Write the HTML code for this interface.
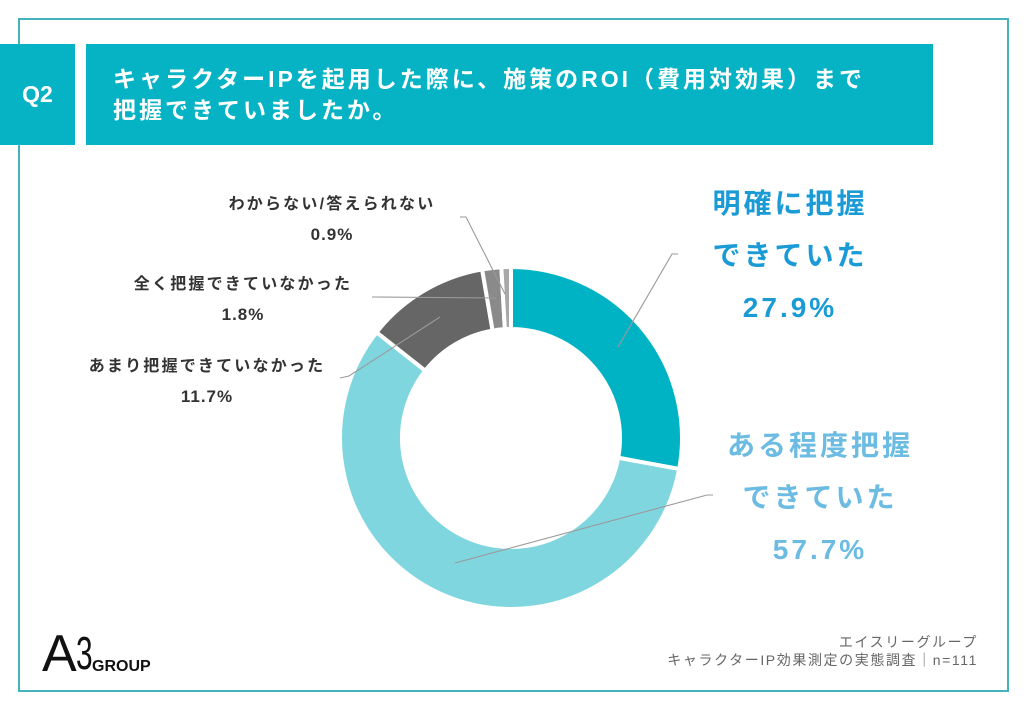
<!DOCTYPE html>
<html><head><meta charset="utf-8">
<style>
html,body{margin:0;padding:0;background:#fff;}
#c{position:relative;width:1024px;height:709px;overflow:hidden;background:#fff;font-family:"Liberation Sans","Noto Sans CJK JP",sans-serif;}
.frame{position:absolute;left:18px;top:18px;width:987px;height:670px;border:2px solid #45b3bd;}
.q{position:absolute;left:0;top:44px;width:75px;height:101px;background:#05b3c4;color:#fff;font-weight:bold;font-size:23px;line-height:101px;text-align:center;}
.tb{position:absolute;left:86px;top:44px;width:847px;height:101px;background:#05b3c4;}
.tt{position:absolute;left:113px;top:64px;color:#fff;font-weight:bold;font-size:23px;line-height:31px;letter-spacing:3px;white-space:nowrap;}
.ll{position:absolute;width:320px;text-align:center;color:#333;font-weight:bold;font-size:16px;line-height:30px;letter-spacing:2.2px;white-space:nowrap;}
.pc{font-size:17px;letter-spacing:1px;}
.rl{position:absolute;width:260px;text-align:center;font-weight:bold;font-size:28px;line-height:52px;letter-spacing:3px;white-space:nowrap;}
.ft{position:absolute;right:46px;top:633px;text-align:right;color:#666;font-size:14px;line-height:18px;letter-spacing:1.6px;white-space:nowrap;}
</style></head><body>
<div id="c">
<div class="frame"></div>
<div class="q">Q2</div>
<div class="tb"></div>
<div class="tt">キャラクターIPを起用した際に、施策のROI（費用対効果）まで<br>把握できていましたか。</div>

<svg style="position:absolute;left:0;top:0" width="1024" height="709" viewBox="0 0 1024 709">
<g stroke="#fff" stroke-width="4" stroke-linejoin="miter">
<path fill="#00b3c4" d="M511,267 A171,171 0 0 1 679.17,468.99 L618.19,457.75 A109,109 0 0 0 511,329 Z"/>
<path fill="#80d6df" d="M679.17,468.99 A171,171 0 1 1 376.54,332.35 L425.29,370.65 A109,109 0 1 0 618.19,457.75 Z"/>
<path fill="#666666" d="M376.54,332.35 A171,171 0 0 1 482.13,269.46 L492.60,330.57 A109,109 0 0 0 425.29,370.65 Z"/>
<path fill="#8a8a8a" d="M482.13,269.46 A171,171 0 0 1 501.34,267.27 L504.84,329.17 A109,109 0 0 0 492.60,330.57 Z"/>
<path fill="#a8a8a8" d="M501.34,267.27 A171,171 0 0 1 511,267 L511,329 A109,109 0 0 0 504.84,329.17 Z"/>
</g>
<g stroke="#9a9a9a" stroke-width="1.1" fill="none">
<polyline points="618,347 672,254 678,254"/>
<polyline points="455,563 707,495 713,495"/>
<polyline points="440,317 349,376 340,378"/>
<polyline points="372,297 496,298"/>
<polyline points="460,217 466,217 505,294"/>
</g>
</svg>

<div class="ll" style="left:172px;top:190px;">わからない/答えられない<br><span class="pc">0.9%</span></div>
<div class="ll" style="left:83px;top:270px;">全く把握できていなかった<br><span class="pc">1.8%</span></div>
<div class="ll" style="left:47px;top:352px;">あまり把握できていなかった<br><span class="pc">11.7%</span></div>

<div class="rl" style="left:660px;top:178px;color:#1a9bd6;">明確に把握<br>できていた<br>27.9%</div>
<div class="rl" style="left:690px;top:420px;color:#6bbbe2;">ある程度把握<br>できていた<br>57.7%</div>

<div style="position:absolute;left:40px;top:622px;width:130px;height:60px;">
<span style="position:absolute;left:2px;top:4px;font-family:'Liberation Sans',sans-serif;font-size:52px;line-height:56px;color:#111;font-weight:normal;">A</span>
<span style="position:absolute;left:36px;top:6px;font-family:'Liberation Sans',sans-serif;font-size:46px;line-height:50px;color:#111;font-weight:normal;display:inline-block;transform:scaleX(0.65);transform-origin:0 0;">3</span>
<span style="position:absolute;left:52px;top:35px;font-family:'Liberation Sans',sans-serif;font-size:16px;line-height:20px;color:#111;font-weight:bold;">GROUP</span>
</div>

<div class="ft">エイスリーグループ<br>キャラクターIP効果測定の実態調査｜n=111</div>
</div>
</body></html>
